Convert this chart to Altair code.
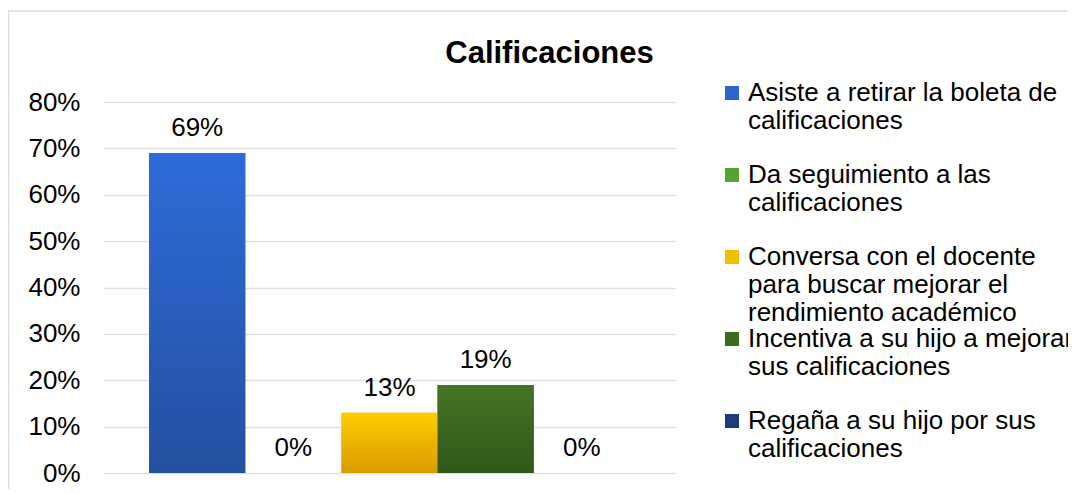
import altair as alt
import pandas as pd

# ---- data ----
series = [
    "Asiste a retirar la boleta de|calificaciones",
    "Da seguimiento a las|calificaciones",
    "Conversa con el docente|para buscar mejorar el|rendimiento académico",
    "Incentiva a su hijo a mejorar|sus calificaciones",
    "Regaña a su hijo por sus|calificaciones",
]
values = [0.69, 0.00, 0.13, 0.19, 0.00]
legend_colors = ["#2D64CF", "#56A232", "#F2BE00", "#3A6A1F", "#1E3C7C"]
top_colors = ["#2E6BD8", "#5DAE37", "#FFCE00", "#447524", "#21428A"]
bottom_colors = ["#2350A0", "#4A8C2A", "#DA9A00", "#30571A", "#172E62"]
y_ticks = [0, 0.1, 0.2, 0.3, 0.4, 0.5, 0.6, 0.7, 0.8]

df = pd.DataFrame({"series": series, "value": values})

FONT = "Liberation Sans"

x_enc = alt.X(
    "series:N",
    sort=series,
    scale=alt.Scale(domain=series, paddingInner=0, paddingOuter=0.48),
    axis=None,
)
y_enc = alt.Y(
    "value:Q",
    scale=alt.Scale(domain=[0, 0.8], nice=False),
    axis=alt.Axis(
        values=y_ticks,
        format=".0%",
        title=None,
        ticks=False,
        domain=False,
        labelFont=FONT,
        labelFontSize=26,
        labelColor="#000000",
        labelPadding=23,
        gridColor="#DDE1E6",
        gridWidth=1.5,
    ),
)

base = alt.Chart(df)

# chart-area frame (light border around the whole chart, as in the source)
frame = alt.Chart(pd.DataFrame({"frame": [0]})).mark_rect(
    fill="transparent", stroke="#DADDE2", strokeWidth=1.5
).encode(
    x=alt.value(-94.5), x2=alt.value(1000), y=alt.value(-91), y2=alt.value(420)
)

bars = base.mark_bar().encode(
    x=x_enc,
    y=y_enc,
    color=alt.Color(
        "series:N",
        sort=series,
        scale=alt.Scale(domain=series, range=legend_colors),
        legend=alt.Legend(
            title=None,
            orient="none",
            legendX=616,
            legendY=-22,
            padding=0,
            symbolType="square",
            symbolSize=196,
            symbolStrokeWidth=0,
            labelFont=FONT,
            labelFontSize=26,
            labelColor="#000000",
            labelOffset=3,
            labelLimit=500,
            labelExpr="split(datum.label, '|')",
            gridAlign="all",
            rowPadding=-19,
        ),
    ),
)

layers = [frame, bars]
for s, t, b in zip(series, top_colors, bottom_colors):
    layers.append(
        base.transform_filter(alt.datum.series == s)
        .mark_bar(
            color=alt.Gradient(
                gradient="linear",
                stops=[
                    alt.GradientStop(color=t, offset=0),
                    alt.GradientStop(color=b, offset=1),
                ],
                x1=0, x2=0, y1=0, y2=1,
            )
        )
        .encode(x=x_enc, y=y_enc)
    )

labels = base.mark_text(
    baseline="alphabetic", dy=-17, font=FONT, fontSize=26, color="#000000"
).encode(x=x_enc, y=y_enc, text=alt.Text("value:Q", format=".0%"))
layers.append(labels)

chart = (
    alt.layer(*layers)
    .properties(
        width=573,
        height=371,
        background="#FFFFFF",
        autosize=alt.AutoSizeParams(type="none"),
        padding={"left": 95, "top": 94, "right": 392, "bottom": 16},
        title=alt.Title(
            "Calificaciones",
            font=FONT,
            fontSize=31,
            fontWeight="bold",
            color="#000000",
            anchor="middle",
            dx=160,
            dy=124,
            baseline="alphabetic",
            offset=40,
        ),
    )
    .configure_view(stroke="transparent", strokeWidth=0)
)

chart.save("out.html", embed_options={"renderer": "svg", "actions": False})
